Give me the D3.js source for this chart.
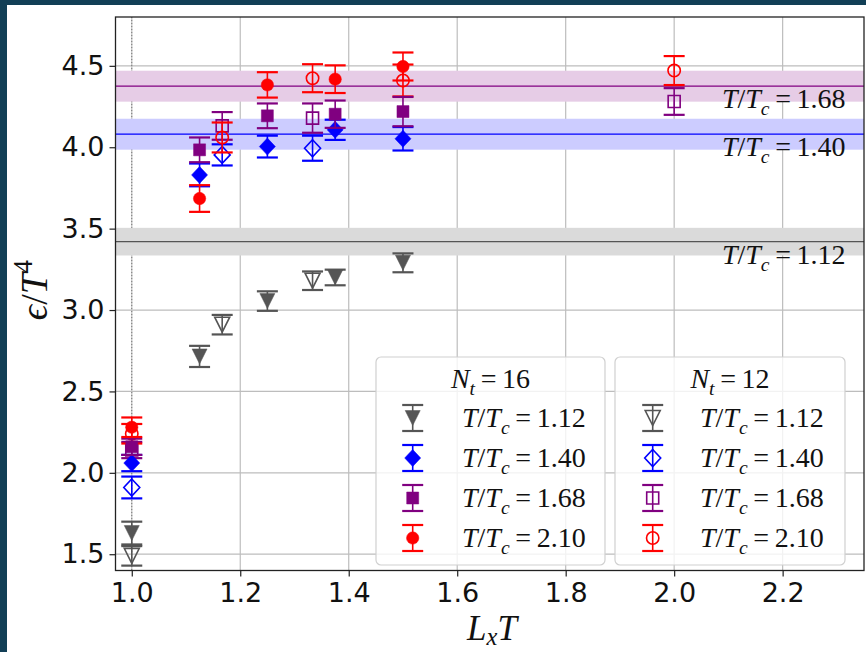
<!DOCTYPE html>
<html lang="en">
    <head>
        <meta charset="utf-8">
        <title>Energy density vs LxT</title>
        <script src="https://d3js.org/d3.v7.min.js"></script>
        <style type="text/css">
            body { margin: 0; background: #123f56; }
            svg { display: block; }
            .tick text { font-family: "DejaVu Sans", sans-serif; font-size: 27px; fill: #111; }
            .math { font-family: "Liberation Serif", "DejaVu Serif", serif; fill: #111; }
        </style>
    </head>
    <body>
        <script type="text/javascript">

            //consts
            const w = 866;
            const h = 652;
            const pLeft = 115.5, pRight = 864, pTop = 17, pBottom = 570.5;

            //tick labels
            const xTicks = [1.0, 1.2, 1.4, 1.6, 1.8, 2.0, 2.2];
            const yTicks = [1.5, 2.0, 2.5, 3.0, 3.5, 4.0, 4.5];
            const temps = ["1.12", "1.40", "1.68", "2.10"];
            const colors = ["#555555", "#0000ff", "#800080", "#ff0000"];
            const shapes = ["tri", "diamond", "square", "circle"];

            //bands (infinite volume values)
            const bandTemps = ["1.12", "1.40", "1.68"];
            const bandMid = [3.42, 4.08, 4.375];
            const bandHalf = [0.085, 0.095, 0.095];

            //N_t = 16 data
            const lx16 = [1.0, 1.125, 1.25, 1.375, 1.5];
            const eps16_112 = [1.63, 2.715, 3.055, 3.20, 3.29];
            const err16_112 = [0.07, 0.065, 0.06, 0.048, 0.058];
            const eps16_140 = [2.06, 3.83, 4.004, 4.107, 4.052];
            const err16_140 = [0.05, 0.07, 0.067, 0.062, 0.072];
            const eps16_168 = [2.16, 3.984, 4.193, 4.203, 4.219];
            const err16_168 = [0.05, 0.076, 0.076, 0.084, 0.09];
            const eps16_210 = [2.28, 3.685, 4.383, 4.418, 4.496];
            const err16_210 = [0.06, 0.082, 0.078, 0.085, 0.086];

            //N_t = 12 data (null = no point)
            const lx12 = [1.0, 1.1667, 1.3333, 1.5, 2.0];
            const eps12_112 = [1.49, 2.91, 3.18, null, null];
            const err12_112 = [0.06, 0.06, 0.057, null, null];
            const eps12_140 = [1.91, 3.953, 3.994, null, null];
            const err12_140 = [0.067, 0.065, 0.077, null, null];
            const eps12_168 = [2.14, 4.131, 4.179, null, 4.281];
            const err12_168 = [0.05, 0.085, 0.09, null, 0.082];
            const eps12_210 = [2.24, 4.06, 4.424, 4.41, 4.471];
            const err12_210 = [0.06, 0.092, 0.086, 0.098, 0.089];

            const nt16 = [[eps16_112, err16_112], [eps16_140, err16_140], [eps16_168, err16_168], [eps16_210, err16_210]];
            const nt12 = [[eps12_112, err12_112], [eps12_140, err12_140], [eps12_168, err12_168], [eps12_210, err12_210]];

            //scales
            const xScale = d3.scaleLinear().domain([0.97, 2.35]).range([pLeft, pRight]);
            const yScale = d3.scaleLinear().domain([1.40, 4.80]).range([pBottom, pTop]);

            //SVG
            const svg = d3.select("body").append("svg")
                          .attr("width", w)
                          .attr("height", h);

            svg.append("rect").attr("x", 7).attr("y", 5)
               .attr("width", w - 7).attr("height", h - 5).attr("fill", "white");

            //grid
            svg.append("g").selectAll("line").data(xTicks).enter().append("line")
               .attr("x1", d => xScale(d)).attr("x2", d => xScale(d))
               .attr("y1", pTop).attr("y2", pBottom)
               .attr("stroke", "#bdbdbd").attr("stroke-width", 1.2);
            svg.append("g").selectAll("line").data(yTicks).enter().append("line")
               .attr("x1", pLeft).attr("x2", pRight)
               .attr("y1", d => yScale(d)).attr("y2", d => yScale(d))
               .attr("stroke", "#bdbdbd").attr("stroke-width", 1.2);
            //dotted line at LxT = 1
            svg.append("line")
               .attr("x1", xScale(1.0)).attr("x2", xScale(1.0))
               .attr("y1", pTop).attr("y2", pBottom)
               .attr("stroke", "#777").attr("stroke-width", 1)
               .attr("stroke-dasharray", "1,2");

            //bands
            const bandFill = ["#dadada", "#ccccff", "#e6cce6"];
            const bandLine = ["#555555", "#0000ff", "#800080"];
            bandMid.forEach((m, i) => {
                svg.append("rect")
                   .attr("x", pLeft).attr("width", pRight - pLeft)
                   .attr("y", yScale(m + bandHalf[i]))
                   .attr("height", yScale(m - bandHalf[i]) - yScale(m + bandHalf[i]))
                   .attr("fill", bandFill[i]);
                svg.append("line")
                   .attr("x1", pLeft).attr("x2", pRight)
                   .attr("y1", yScale(m)).attr("y2", yScale(m))
                   .attr("stroke", bandLine[i]).attr("stroke-width", 1.2);
            });

            //T/Tc label helper
            function ttc(sel, t) {
                sel.append("tspan").attr("font-style", "italic").text("T");
                sel.append("tspan").text("/");
                sel.append("tspan").attr("font-style", "italic").text("T");
                sel.append("tspan").attr("font-style", "italic").attr("font-size", "0.7em").attr("dy", 7).text("c");
                sel.append("tspan").attr("dy", -7).text("\u2009=\u2009" + t);
            }

            bandMid.forEach((m, i) => {
                const t = svg.append("text").attr("class", "math")
                   .attr("x", xScale(2.088)).attr("y", yScale(m) + 22)
                   .attr("font-size", 28);
                ttc(t, bandTemps[i]);
            });

            //markers
            function markerPath(shape) {
                if (shape === "tri") return "M-7.5,-7.5L7.5,-7.5L0,7.5Z";
                if (shape === "diamond") return "M0,-8.5L8,0L0,8.5L-8,0Z";
                if (shape === "square") return "M-6,-6L6,-6L6,6L-6,6Z";
                return d3.symbol().type(d3.symbolCircle).size(120)();
            }

            function drawPoint(g, x, y, e, i, filled) {
                const c = colors[i];
                const cx = xScale(x);
                g.append("line").attr("x1", cx).attr("x2", cx)
                 .attr("y1", yScale(y - e)).attr("y2", yScale(y + e))
                 .attr("stroke", c).attr("stroke-width", 1.6);
                [y - e, y + e].forEach(v => {
                    g.append("line").attr("x1", cx - 10.5).attr("x2", cx + 10.5)
                     .attr("y1", yScale(v)).attr("y2", yScale(v))
                     .attr("stroke", c).attr("stroke-width", 2.2);
                });
                g.append("path").attr("d", markerPath(shapes[i]))
                 .attr("transform", "translate(" + cx + "," + yScale(y) + ")")
                 .attr("fill", filled ? c : "none")
                 .attr("stroke", c).attr("stroke-width", filled ? 0.5 : 1.6);
            }

            const pts = svg.append("g");
            nt12.forEach((s, i) => {
                s[0].forEach((v, k) => { if (v !== null) drawPoint(pts, lx12[k], v, s[1][k], i, false); });
            });
            nt16.forEach((s, i) => {
                s[0].forEach((v, k) => drawPoint(pts, lx16[k], v, s[1][k], i, true));
            });

            //axes
            const bottomAxis = d3.axisBottom(xScale).tickValues(xTicks)
                                 .tickFormat(d3.format(".1f")).tickSize(6).tickPadding(6);
            svg.append("g").attr("transform", "translate(0," + pBottom + ")")
               .call(bottomAxis).call(g => g.select(".domain").remove());
            const leftAxis = d3.axisLeft(yScale).tickValues(yTicks)
                               .tickFormat(d3.format(".1f")).tickSize(6).tickPadding(5);
            svg.append("g").attr("transform", "translate(" + pLeft + ",0)")
               .call(leftAxis).call(g => g.select(".domain").remove());
            svg.selectAll(".tick line").attr("stroke", "#222").attr("stroke-width", 1.2);

            //frame
            svg.append("rect").attr("x", pLeft).attr("y", pTop)
               .attr("width", pRight - pLeft).attr("height", pBottom - pTop)
               .attr("fill", "none").attr("stroke", "#222").attr("stroke-width", 1.3);

            //legends
            function legend(x0, x1, markX, textX, title, filled) {
                const g = svg.append("g");
                g.append("rect").attr("x", x0).attr("y", 357).attr("width", x1 - x0).attr("height", 208)
                 .attr("rx", 5).attr("fill", "white").attr("fill-opacity", 0.8)
                 .attr("stroke", "#d0d0d0").attr("stroke-width", 1.2);
                const tt = g.append("text").attr("class", "math").attr("font-size", 28)
                            .attr("x", (x0 + x1) / 2).attr("y", 388).attr("text-anchor", "middle");
                tt.append("tspan").attr("font-style", "italic").text("N");
                tt.append("tspan").attr("font-style", "italic").attr("font-size", "0.7em").attr("dy", 7).text("t");
                tt.append("tspan").attr("dy", -7).text("\u2009=\u2009" + title);
                temps.forEach((t, i) => {
                    const cy = 418 + i * 40;
                    g.append("line").attr("x1", markX).attr("x2", markX).attr("y1", cy - 13).attr("y2", cy + 13)
                     .attr("stroke", colors[i]).attr("stroke-width", 1.6);
                    [cy - 13, cy + 13].forEach(yy => g.append("line")
                        .attr("x1", markX - 10.5).attr("x2", markX + 10.5).attr("y1", yy).attr("y2", yy)
                        .attr("stroke", colors[i]).attr("stroke-width", 2.2));
                    g.append("path").attr("d", markerPath(shapes[i]))
                     .attr("transform", "translate(" + markX + "," + cy + ")")
                     .attr("fill", filled ? colors[i] : "none")
                     .attr("stroke", colors[i]).attr("stroke-width", filled ? 0.5 : 1.6);
                    const lt = g.append("text").attr("class", "math").attr("font-size", 28)
                                .attr("x", textX).attr("y", cy + 9);
                    ttc(lt, t);
                });
            }
            legend(376, 605, 412.7, 462, "16", true);
            legend(615, 845, 652.7, 700, "12", false);

            //axis labels
            const xl = svg.append("text").attr("class", "math").attr("font-size", 35)
                          .attr("x", 492).attr("y", 640).attr("text-anchor", "middle");
            xl.append("tspan").attr("font-style", "italic").text("L");
            xl.append("tspan").attr("font-style", "italic").attr("font-size", "0.7em").attr("dy", 5).text("x");
            xl.append("tspan").attr("font-style", "italic").attr("dy", -5).text("T");

            const yl = svg.append("text").attr("class", "math").attr("font-size", 38)
                          .attr("transform", "translate(47,290) rotate(-90)").attr("text-anchor", "middle");
            yl.append("tspan").attr("font-style", "italic").text("ϵ");
            yl.append("tspan").text("/");
            yl.append("tspan").attr("font-style", "italic").text("T");
            yl.append("tspan").attr("font-size", "0.7em").attr("dy", -15).text("4");

        </script>
    </body>
</html>
